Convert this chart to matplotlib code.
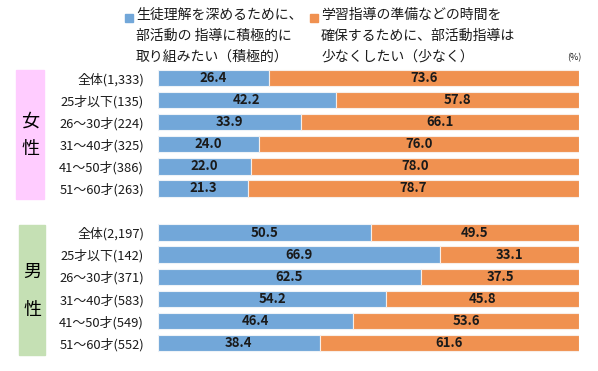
import matplotlib
matplotlib.use("Agg")
import matplotlib.pyplot as plt
from matplotlib.patches import Rectangle

plt.rcParams['font.family'] = ['Noto Sans CJK JP', 'DejaVu Sans']

female_labels = ["全体(1,333)", "25才以下(135)", "26～30才(224)", "31～40才(325)", "41～50才(386)", "51～60才(263)"]
female_pos = [26.4, 42.2, 33.9, 24.0, 22.0, 21.3]
female_neg = [73.6, 57.8, 66.1, 76.0, 78.0, 78.7]
male_labels = ["全体(2,197)", "25才以下(142)", "26～30才(371)", "31～40才(583)", "41～50才(549)", "51～60才(552)"]
male_pos = [50.5, 66.9, 62.5, 54.2, 46.4, 38.4]
male_neg = [49.5, 33.1, 37.5, 45.8, 53.6, 61.6]
legend_pos = "生徒理解を深めるために、\n部活動の 指導に積極的に\n取り組みたい（積極的）"
legend_neg = "学習指導の準備などの時間を\n確保するために、部活動指導は\n少なくしたい（少なく）"

blue = "#72A7D9"
orange = "#F09150"

W, H = 598, 371
fig = plt.figure(figsize=(W/100, H/100), dpi=100)
ax = fig.add_axes([158/W, 1-354/H, (579-158)/W, (354-67)/H])

labels = female_labels + [""] + male_labels
pos = female_pos + [None] + male_pos
neg = female_neg + [None] + male_neg
rows = [i for i in range(13) if pos[i] is not None]
pv = [pos[i] for i in rows]
nv = [neg[i] for i in rows]

ax.barh(rows, pv, height=0.74, color=blue, edgecolor="#EEF3F8", linewidth=0.8)
ax.barh(rows, nv, left=pv, height=0.74, color=orange, edgecolor="#F8EEE8", linewidth=0.8)
for r, p, n in zip(rows, pv, nv):
    ax.text(p/2, r, f"{p:.1f}", ha="center", va="center", fontsize=9.5, fontweight="bold", color="#1a1a1a")
    ax.text(p + n/2, r, f"{n:.1f}", ha="center", va="center", fontsize=9.5, fontweight="bold", color="#1a1a1a")

ax.set_xlim(0, 100)
ax.set_ylim(12.5, -0.5)
ax.set_yticks(range(13))
ax.set_yticklabels(labels, fontsize=9.3, color="#1a1a1a")
ax.tick_params(axis="y", length=0, pad=10)
ax.set_xticks([])
for s in ax.spines.values():
    s.set_visible(False)

# side boxes
fig.patches.append(Rectangle((16/W, 1-199/H), 28/W, 129/H, transform=fig.transFigure, color="#FFCCFF", zorder=0))
fig.patches.append(Rectangle((19/W, 1-355/H), 26/W, 130/H, transform=fig.transFigure, color="#C5E0B4", zorder=0))
fig.text(30/W, 1-122/H, "女", ha="center", va="center", fontsize=13)
fig.text(30/W, 1-149/H, "性", ha="center", va="center", fontsize=13)
fig.text(32/W, 1-272/H, "男", ha="center", va="center", fontsize=13)
fig.text(32/W, 1-310/H, "性", ha="center", va="center", fontsize=13)

# legend
fig.patches.append(Rectangle((125/W, 1-22/H), 8/W, 8/H, transform=fig.transFigure, color=blue))
fig.patches.append(Rectangle((310/W, 1-22/H), 8/W, 8/H, transform=fig.transFigure, color=orange))
fig.text(136/W, 1-8/H, legend_pos, ha="left", va="top", fontsize=10, linespacing=1.6, color="#1a1a1a")
fig.text(321/W, 1-8/H, legend_neg, ha="left", va="top", fontsize=10, linespacing=1.6, color="#1a1a1a")
fig.text(581/W, 1-58/H, "(%)", ha="right", va="center", fontsize=6.5, color="#1a1a1a")

fig.savefig("out.png", dpi=100)
